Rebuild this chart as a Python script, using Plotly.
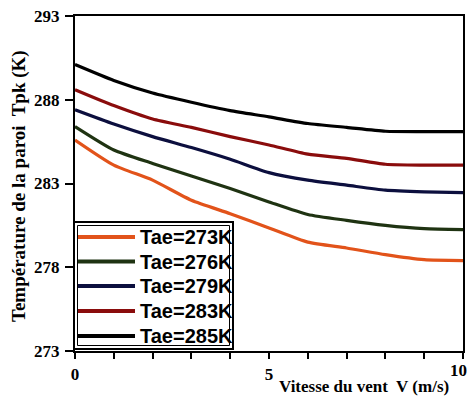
import plotly.graph_objects as go

# ---- data ----
wind_speed = [0, 1, 2, 3, 4, 5, 6, 7, 8, 9, 10]
t_273 = [285.6, 284.1, 283.2, 282.0, 281.2, 280.35, 279.5, 279.15, 278.75, 278.45, 278.4]
t_276 = [286.4, 285.0, 284.2, 283.45, 282.7, 281.9, 281.15, 280.8, 280.5, 280.3, 280.25]
t_279 = [287.4, 286.55, 285.8, 285.15, 284.45, 283.65, 283.2, 282.9, 282.6, 282.5, 282.45]
t_283 = [288.6, 287.65, 286.85, 286.35, 285.8, 285.3, 284.75, 284.5, 284.15, 284.1, 284.1]
t_285 = [290.1, 289.15, 288.4, 287.85, 287.35, 286.98, 286.58, 286.35, 286.12, 286.1, 286.1]
series_labels = ["Tae=273K", "Tae=276K", "Tae=279K", "Tae=283K", "Tae=285K"]
series_values = [t_273, t_276, t_279, t_283, t_285]
series_colors = ["#E2531A", "#1F3312", "#0C0F3E", "#8A0C0C", "#000000"]
x_tickvals = [0, 1, 2, 3, 4, 5, 6, 7, 8, 9, 10]
x_ticktext = ["0", "", "", "", "", "5", "", "", "", "", "10"]
y_tickvals = [273, 278, 283, 288, 293]

# ---- layout geometry (pixels) ----
W, H = 470, 398
L, R, T, B = 75, 463, 16, 351
PW, PH = R - L, B - T


def px(xp):
    return (xp - L) / PW


def py(yp):
    return (B - yp) / PH


fig = go.Figure()
for lab, vals, col in zip(series_labels, series_values, series_colors):
    fig.add_trace(go.Scatter(x=wind_speed, y=vals, mode="lines", name=lab,
                             line=dict(color=col, width=3.2, shape="spline", smoothing=0.6),
                             showlegend=False))

serif = "Liberation Serif"
sans = "Liberation Sans"

# the last tick label sits at the figure's right edge -> drawn as an annotation kept inside
axis_ticktext = x_ticktext[:-1] + [""]

fig.update_layout(
    width=W, height=H,
    margin=dict(l=L, r=W - R, t=T, b=H - B),
    paper_bgcolor="white", plot_bgcolor="white",
    xaxis=dict(range=[0, 10], tickvals=x_tickvals, ticktext=axis_ticktext,
               ticks="outside", ticklen=6, tickwidth=1.5, tickcolor="black",
               showline=True, linecolor="black", linewidth=2, mirror=True,
               showgrid=False, zeroline=False, ticklabelstandoff=1, automargin=False,
               tickfont=dict(family=serif, size=17, color="black", weight="bold")),
    yaxis=dict(range=[273, 293], tickvals=y_tickvals,
               ticks="outside", ticklen=8, tickwidth=1.5, tickcolor="black",
               showline=True, linecolor="black", linewidth=2, mirror=True,
               showgrid=False, zeroline=False, ticklabelstandoff=2, automargin=False,
               tickfont=dict(family=serif, size=17, color="black", weight="bold")),
)

shapes = []
annotations = []

annotations.append(dict(text="<b>" + x_ticktext[-1] + "</b>", xref="paper", yref="paper",
                        x=px(469), y=py(370), xanchor="right", yanchor="middle",
                        showarrow=False, font=dict(family=serif, size=17, color="black")))

# axis titles
annotations.append(dict(text="<b>Vitesse du vent  V (m/s)</b>", xref="paper", yref="paper",
                        x=px(364), y=py(386), xanchor="center", yanchor="middle",
                        showarrow=False, font=dict(family=serif, size=17, color="black")))
annotations.append(dict(text="<b>Température de la paroi  Tpk (K)</b>", xref="paper", yref="paper",
                        x=px(19), y=py(186), xanchor="center", yanchor="middle", textangle=-90,
                        showarrow=False, font=dict(family=serif, size=19, color="black")))

# legend box (double border)
shapes.append(dict(type="rect", xref="paper", yref="paper",
                   x0=px(74), x1=px(233), y0=py(349), y1=py(222),
                   line=dict(color="black", width=2), fillcolor="white", layer="above"))
shapes.append(dict(type="rect", xref="paper", yref="paper",
                   x0=px(77.5), x1=px(229.5), y0=py(345.5), y1=py(225.5),
                   line=dict(color="black", width=1), layer="above"))
entry_y = [237, 261.5, 286, 311, 336]
for lab, col, yy in zip(series_labels, series_colors, entry_y):
    shapes.append(dict(type="line", xref="paper", yref="paper",
                       x0=px(78), x1=px(135), y0=py(yy), y1=py(yy),
                       line=dict(color=col, width=4), layer="above"))
    annotations.append(dict(text="<b>" + lab + "</b>", xref="paper", yref="paper",
                            x=px(138), y=py(yy), xanchor="left", yanchor="middle",
                            showarrow=False, font=dict(family=sans, size=20, color="black")))

fig.update_layout(shapes=shapes, annotations=annotations)
fig.write_html("out.html")
